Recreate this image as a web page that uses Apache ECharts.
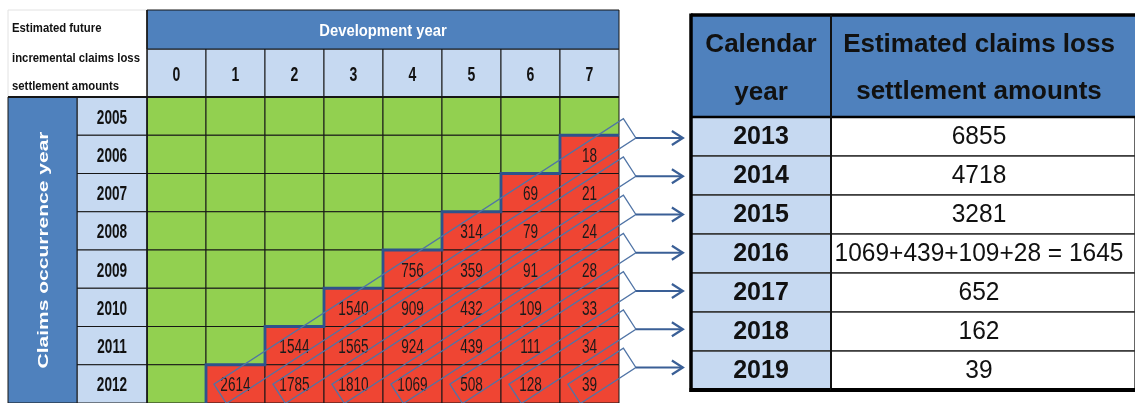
<!DOCTYPE html>
<html><head><meta charset="utf-8">
<script src="https://cdn.jsdelivr.net/npm/echarts@6/dist/echarts.min.js"></script>
<style>html,body{margin:0;padding:0;background:#fff}#c{width:1135px;height:403px}</style>
</head><body><div id="c"></div>
<script>
// ---------------- data ----------------
const devYears = ['0','1','2','3','4','5','6','7'];
const occurrenceYears = ['2005','2006','2007','2008','2009','2010','2011','2012'];
// estimated future incremental claims loss settlement amounts (null = green / already known)
const row2005 = [null,null,null,null,null,null,null,null];
const row2006 = [null,null,null,null,null,null,null,18];
const row2007 = [null,null,null,null,null,null,69,21];
const row2008 = [null,null,null,null,null,314,79,24];
const row2009 = [null,null,null,null,756,359,91,28];
const row2010 = [null,null,null,1540,909,432,109,33];
const row2011 = [null,null,1544,1565,924,439,111,34];
const row2012 = [null,2614,1785,1810,1069,508,128,39];
const calendarYears = ['2013','2014','2015','2016','2017','2018','2019'];
const settlementAmounts = ['6855','4718','3281','1069+439+109+28 = 1645','652','162','39'];
const cornerTitle = ['Estimated future','incremental claims loss','settlement amounts'];
const devTitle = 'Development year';
const occTitle = 'Claims occurrence year';
const rightHeadYear = ['Calendar','year'];
const rightHeadAmount = ['Estimated claims loss','settlement amounts'];

const matrix = [row2005,row2006,row2007,row2008,row2009,row2010,row2011,row2012];
const cells = [];
matrix.forEach((row,r)=>row.forEach((v,c)=>cells.push({c,r,v})));

// ---------------- style ----------------
const FF = '"Liberation Sans", Arial, sans-serif';
const GREEN='#92D050', RED='#EF4533', BLUE='#4F81BD', LIGHT='#C6D9F1', LINE='#161616',
      STAIR='#2E528C', BAND='#5074A6', ARROW='#3A5F96';
const NUM_ROW_H=48, BANNER_H=39, YEAR_W=70, OCC_W=69, RHEAD_H=102;

function txt(x,y,text,o){
  return {type:'text', x, y, scaleX:o.sx||1, rotation:o.rot||0, z2:20,
    style:{text, x:0, y:0, fill:o.fill||'#111', font:o.font, align:o.align||'center', verticalAlign:'middle'}};
}
function rect(x,y,w,h,fill,stroke,lw){
  return {type:'rect', shape:{x,y,width:w,height:h}, style:{fill, stroke, lineWidth:lw||1}};
}
function line(x1,y1,x2,y2,stroke,lw){
  return {type:'line', z2:15, shape:{x1,y1,x2,y2}, style:{stroke, lineWidth:lw}};
}

const option = {
  animation:false,
  grid:[
    {left:147, top:97, width:472, height:310},
    {left:691, top:117, width:140, height:273},
    {left:831, top:117, width:312, height:273}
  ],
  xAxis:[
    {gridIndex:0, type:'value', min:-0.5, max:7.5, show:false},
    {gridIndex:1, type:'value', min:-0.5, max:0.5, show:false},
    {gridIndex:2, type:'value', min:-0.5, max:0.5, show:false}
  ],
  yAxis:[
    {gridIndex:0, type:'value', min:-0.5, max:7.5, inverse:true, show:false},
    {gridIndex:1, type:'value', min:-0.5, max:6.5, inverse:true, show:false},
    {gridIndex:2, type:'value', min:-0.5, max:6.5, inverse:true, show:false}
  ],
  series:[
    // matrix cells
    {type:'custom', xAxisIndex:0, yAxisIndex:0, data:cells.map(d=>[d.c,d.r]),
     renderItem(params, api){
       const cell = cells[params.dataIndex];
       const a = api.coord([cell.c-0.5, cell.r-0.5]), b = api.coord([cell.c+0.5, cell.r+0.5]);
       const ch = [rect(a[0],a[1],b[0]-a[0],b[1]-a[1], cell.v==null?GREEN:RED, LINE, 1)];
       if (cell.v!=null) ch.push(txt((a[0]+b[0])/2, (a[1]+b[1])/2+2, String(cell.v), {font:'20px '+FF, sx:0.68, fill:'#1a1a1a'}));
       return {type:'group', children:ch};
     }},
    // development year number row
    {type:'custom', xAxisIndex:0, yAxisIndex:0, data:devYears.map((d,i)=>[i,-0.5]),
     renderItem(params, api){
       const i = params.dataIndex;
       const a = api.coord([i-0.5,-0.5]), b = api.coord([i+0.5,-0.5]);
       return {type:'group', children:[
         rect(a[0], a[1]-NUM_ROW_H, b[0]-a[0], NUM_ROW_H, LIGHT, LINE, 1),
         txt((a[0]+b[0])/2, a[1]-NUM_ROW_H/2+2, devYears[i], {font:'bold 20px '+FF, sx:0.7})
       ]};
     }},
    // occurrence year column
    {type:'custom', xAxisIndex:0, yAxisIndex:0, data:occurrenceYears.map((d,i)=>[-0.5,i]),
     renderItem(params, api){
       const i = params.dataIndex;
       const a = api.coord([-0.5,i-0.5]), b = api.coord([-0.5,i+0.5]);
       return {type:'group', children:[
         rect(a[0]-YEAR_W, a[1], YEAR_W, b[1]-a[1], LIGHT, LINE, 1),
         txt(a[0]-YEAR_W/2, (a[1]+b[1])/2+2, occurrenceYears[i], {font:'bold 20px '+FF, sx:0.68})
       ]};
     }},
    // banners, corner title, frame
    {type:'custom', xAxisIndex:0, yAxisIndex:0, data:[[-0.5,-0.5]],
     renderItem(params, api){
       const a = api.coord([-0.5,-0.5]), b = api.coord([7.5,7.5]);
       const top = a[1]-NUM_ROW_H-BANNER_H;
       const x0 = a[0]-YEAR_W-OCC_W;
       const ch = [
         rect(x0, top, YEAR_W+OCC_W, NUM_ROW_H+BANNER_H, '#fff', '#e2e2e2', 1),
         rect(a[0], top, b[0]-a[0], BANNER_H, BLUE, LINE, 1),
         txt((a[0]+b[0])/2, top+BANNER_H/2+2, devTitle, {font:'bold 17px '+FF, sx:0.87, fill:'#fff'}),
         rect(x0, a[1], OCC_W, b[1]-a[1], BLUE, LINE, 1),
         txt(x0+OCC_W/2+1, (a[1]+b[1])/2, occTitle, {font:'bold 15px '+FF, sx:1.4, fill:'#fff', rot:Math.PI/2}),
         line(x0, a[1], b[0], a[1], LINE, 2),
         line(a[0], top, a[0], b[1], LINE, 1.5)
       ];
       const ly = [top+18, top+48, top+76];
       cornerTitle.forEach((t,k)=>ch.push(txt(x0+4, ly[k], t, {font:'bold 13.5px '+FF, sx:0.84, align:'left'})));
       return {type:'group', children:ch};
     }},
    // staircase boundary between known and estimated amounts
    {type:'custom', xAxisIndex:0, yAxisIndex:0, data:[[0,0]], z:3,
     renderItem(params, api){
       const pts = [];
       for (let r = matrix.length-1; r >= 0; r--) {
         const c0 = matrix[r].findIndex(v=>v!=null);
         if (c0 < 0) break;
         pts.push(api.coord([c0-0.5, r+0.5]));
         pts.push(api.coord([c0-0.5, r-0.5]));
       }
       const last = pts[pts.length-1];
       pts.push([api.coord([7.5,0])[0], last[1]]);
       return {type:'polyline', shape:{points:pts}, style:{stroke:STAIR, lineWidth:2.8, fill:null}};
     }},
    // calendar-year diagonal bands + arrows
    {type:'custom', xAxisIndex:0, yAxisIndex:0, data:calendarYears.map((y,k)=>[k,0]), z:4,
     renderItem(params, api){
       const k = params.dataIndex;
       const topCell = {c:7, r:1+k}, botCell = {c:1+k, r:7};
       const pr = api.coord([topCell.c+0.68, topCell.r-0.68]);
       const pl = api.coord([botCell.c-0.26, botCell.r+0.26]);
       const dx = pr[0]-pl[0], dy = pr[1]-pl[1], len = Math.hypot(dx,dy);
       const nx = -dy/len*11.5, ny = dx/len*11.5;
       const poly = [[pr[0]-nx,pr[1]-ny],[pr[0]+nx,pr[1]+ny],[pl[0]+nx,pl[1]+ny],[pl[0]-nx,pl[1]-ny]];
       const tip = poly[1];
       const ex = tip[0]+47, ey = tip[1];
       return {type:'group', children:[
         {type:'polygon', shape:{points:poly}, style:{stroke:BAND, lineWidth:1.3, fill:null}},
         {type:'line', shape:{x1:tip[0], y1:tip[1], x2:ex, y2:ey}, style:{stroke:ARROW, lineWidth:2.2}},
         {type:'polyline', shape:{points:[[ex-11,ey-7],[ex,ey],[ex-11,ey+7]]}, style:{stroke:ARROW, lineWidth:2.2, fill:null}}
       ]};
     }},
    // right table: calendar year column
    {type:'custom', xAxisIndex:1, yAxisIndex:1, data:calendarYears.map((y,i)=>[0,i]),
     renderItem(params, api){
       const i = params.dataIndex;
       const a = api.coord([-0.5,i-0.5]), b = api.coord([0.5,i+0.5]);
       return {type:'group', children:[
         rect(a[0],a[1],b[0]-a[0],b[1]-a[1], LIGHT, '#333', 1.5),
         txt((a[0]+b[0])/2, (a[1]+b[1])/2+1, calendarYears[i], {font:'bold 25px '+FF})
       ]};
     }},
    // right table: amount column
    {type:'custom', xAxisIndex:2, yAxisIndex:2, data:settlementAmounts.map((y,i)=>[0,i]),
     renderItem(params, api){
       const i = params.dataIndex;
       const a = api.coord([-0.5,i-0.5]), b = api.coord([0.5,i+0.5]);
       return {type:'group', children:[
         rect(a[0],a[1],b[0]-a[0],b[1]-a[1], '#fff', '#333', 1.5),
         txt((a[0]+b[0])/2 - 4, (a[1]+b[1])/2+1, settlementAmounts[i], {font:'25px '+FF, sx:0.98})
       ]};
     }},
    // right table headers and frame (year column)
    {type:'custom', xAxisIndex:1, yAxisIndex:1, data:[[0,0]],
     renderItem(params, api){
       const a = api.coord([-0.5,-0.5]), b = api.coord([0.5,6.5]);
       const top = a[1]-RHEAD_H, cx = (a[0]+b[0])/2;
       return {type:'group', children:[
         rect(a[0], top, b[0]-a[0], RHEAD_H, BLUE, null, 0),
         txt(cx, top+30, rightHeadYear[0], {font:'bold 26px '+FF}),
         txt(cx, top+78, rightHeadYear[1], {font:'bold 26px '+FF}),
         line(a[0], top, b[0], top, '#000', 3.5),
         line(a[0], a[1], b[0], a[1], '#000', 2.5),
         line(a[0], top-1.5, a[0], b[1]+2, '#000', 3.5),
         line(a[0]-1.5, b[1], b[0], b[1], '#000', 4)
       ]};
     }},
    // right table headers and frame (amount column)
    {type:'custom', xAxisIndex:2, yAxisIndex:2, data:[[0,0]],
     renderItem(params, api){
       const a = api.coord([-0.5,-0.5]), b = api.coord([0.5,6.5]);
       const top = a[1]-RHEAD_H, cx = (a[0]+b[0])/2 - 4;
       return {type:'group', children:[
         rect(a[0], top, b[0]-a[0], RHEAD_H, BLUE, null, 0),
         txt(cx, top+30, rightHeadAmount[0], {font:'bold 26px '+FF}),
         txt(cx, top+77, rightHeadAmount[1], {font:'bold 26px '+FF}),
         line(a[0], top, b[0], top, '#000', 3.5),
         line(a[0], a[1], b[0], a[1], '#000', 2.5),
         line(a[0], top, a[0], b[1], '#111', 2),
         line(a[0], b[1], b[0], b[1], '#000', 4)
       ]};
     }}
  ]
};
const chart = echarts.init(document.getElementById('c'), null, {renderer:'canvas'});
chart.setOption(option);
</script></body></html>
